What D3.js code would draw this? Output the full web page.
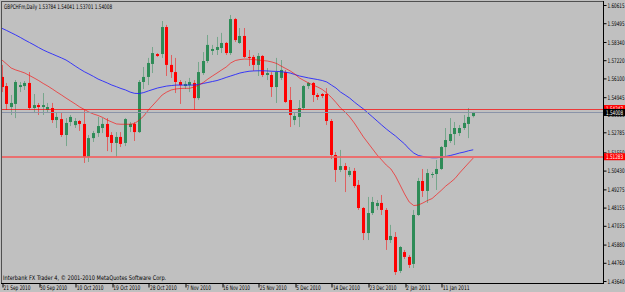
<!DOCTYPE html>
<html><head><meta charset="utf-8">
<script src="https://cdn.jsdelivr.net/npm/d3@7"></script>
<style>html,body{margin:0;padding:0;background:#c0c0c0;overflow:hidden}</style>
</head><body>
<svg id="c" width="625" height="292"></svg>
<script>
const openP = [1.5619,1.5563,1.5434,1.5453,1.5557,1.5563,1.5582,1.5428,1.5446,1.5434,
1.5416,1.5428,1.5354,1.5360,1.5262,1.5342,1.5323,1.5348,1.5330,1.5127,
1.5243,1.5274,1.5305,1.5330,1.5262,1.5213,1.5250,1.5213,1.5311,1.5330,
1.5280,1.5588,1.5619,1.5699,1.5760,1.5760,1.5926,1.5693,1.5649,1.5588,
1.5563,1.5569,1.5582,1.5489,1.5643,1.5717,1.5779,1.5785,1.5797,1.5828,
1.5766,1.5975,1.5828,1.5871,1.5742,1.5742,1.5693,1.5748,1.5631,1.5631,
1.5557,1.5613,1.5649,1.5477,1.5354,1.5373,1.5428,1.5563,1.5582,1.5508,
1.5514,1.5514,1.5348,1.5139,1.5047,1.5071,1.5016,1.5041,1.4955,1.4813,
1.4659,1.4782,1.4825,1.4844,1.4801,1.4616,1.4635,1.4426,1.4542,1.4512,
1.4469,1.4770,1.4979,1.4918,1.5016,1.5022,1.5053,1.5188,1.5225,1.5268,
1.5274,1.5305,1.5330,1.53784];
const highP = [1.5693,1.5582,1.5508,1.5600,1.5588,1.5594,1.5649,1.5514,1.5459,1.5520,
1.5459,1.5459,1.5403,1.5403,1.5366,1.5385,1.5366,1.5354,1.5416,1.5262,
1.5287,1.5373,1.5366,1.5366,1.5280,1.5280,1.5280,1.5366,1.5342,1.5342,
1.5600,1.5680,1.5736,1.5803,1.5766,1.5963,1.5939,1.5754,1.5736,1.5600,
1.5594,1.5613,1.5600,1.5711,1.5772,1.5877,1.5816,1.5865,1.5890,1.5834,
1.6000,1.5982,1.5920,1.5920,1.5785,1.5754,1.5766,1.5754,1.5674,1.5649,
1.5736,1.5723,1.5662,1.5557,1.5397,1.5477,1.5569,1.5588,1.5588,1.5520,
1.5520,1.5551,1.5360,1.5157,1.5170,1.5090,1.5065,1.5059,1.4985,1.4819,
1.4881,1.4881,1.4862,1.4893,1.4813,1.4709,1.4665,1.4579,1.4555,1.4524,
1.4801,1.4998,1.5053,1.5053,1.5034,1.5108,1.5194,1.5305,1.5366,1.5342,
1.5323,1.5385,1.5428,1.54041];
const lowP = [1.5526,1.5416,1.5385,1.5366,1.5526,1.5539,1.5416,1.5397,1.5385,1.5385,
1.5397,1.5336,1.5305,1.5250,1.5194,1.5317,1.5305,1.5287,1.5090,1.5096,
1.5219,1.5250,1.5274,1.5163,1.5157,1.5127,1.5188,1.5194,1.5280,1.5225,
1.5274,1.5545,1.5569,1.5643,1.5742,1.5736,1.5625,1.5613,1.5520,1.5453,
1.5545,1.5526,1.5416,1.5477,1.5631,1.5705,1.5754,1.5754,1.5766,1.5754,
1.5754,1.5834,1.5822,1.5736,1.5686,1.5656,1.5625,1.5619,1.5600,1.5496,
1.5459,1.5600,1.5459,1.5311,1.5323,1.5311,1.5416,1.5545,1.5465,1.5477,
1.5489,1.5323,1.5114,1.4973,1.5034,1.4911,1.5004,1.4936,1.4801,1.4616,
1.4616,1.4770,1.4801,1.4770,1.4555,1.4598,1.4401,1.4413,1.4499,1.4444,
1.4444,1.4764,1.4881,1.4844,1.4998,1.4924,1.5047,1.5133,1.5213,1.5200,
1.5256,1.5293,1.5243,1.53701];
const closeP = [1.5557,1.5453,1.5459,1.5588,1.5569,1.5582,1.5428,1.5446,1.5434,1.5446,
1.5434,1.5354,1.5373,1.5262,1.5336,1.5373,1.5348,1.5330,1.5127,1.5243,
1.5274,1.5317,1.5330,1.5250,1.5213,1.5250,1.5207,1.5360,1.5330,1.5280,
1.5588,1.5619,1.5705,1.5766,1.5748,1.5926,1.5693,1.5649,1.5588,1.5569,
1.5576,1.5588,1.5489,1.5649,1.5717,1.5816,1.5791,1.5803,1.5828,1.5766,
1.5975,1.5846,1.5871,1.5742,1.5736,1.5693,1.5748,1.5631,1.5643,1.5557,
1.5649,1.5662,1.5465,1.5385,1.5379,1.5428,1.5563,1.5582,1.5508,1.5496,
1.5502,1.5348,1.5139,1.5047,1.5071,1.5047,1.5041,1.4948,1.4813,1.4659,
1.4782,1.4850,1.4844,1.4801,1.4616,1.4641,1.4419,1.4573,1.4512,1.4463,
1.4770,1.4979,1.4918,1.5028,1.5022,1.5053,1.5188,1.5231,1.5268,1.5305,
1.5305,1.5336,1.5373,1.54008];
const maFast = [1.5723,1.5699,1.5674,1.5662,1.5653,1.5643,1.5628,1.5613,1.5597,1.5579,
1.5563,1.5545,1.5526,1.5508,1.5489,1.5471,1.5453,1.5434,1.5419,1.5403,
1.5391,1.5382,1.5370,1.5354,1.5342,1.5330,1.5328,1.5328,1.5328,1.5333,
1.5354,1.5379,1.5416,1.5446,1.5477,1.5508,1.5526,1.5539,1.5545,1.5548,
1.5549,1.5549,1.5557,1.5569,1.5585,1.5606,1.5625,1.5643,1.5662,1.5680,
1.5705,1.5720,1.5726,1.5729,1.5728,1.5726,1.5723,1.5720,1.5717,1.5711,
1.5702,1.5686,1.5671,1.5656,1.5637,1.5613,1.5597,1.5582,1.5569,1.5557,
1.5542,1.5520,1.5493,1.5462,1.5428,1.5403,1.5373,1.5336,1.5293,1.5250,
1.5213,1.5176,1.5139,1.5108,1.5077,1.5053,1.5010,1.4955,1.4899,1.4850,
1.4828,1.4831,1.4844,1.4859,1.4871,1.4896,1.4921,1.4948,1.4970,1.4994,
1.5028,1.5059,1.5090,1.5120];
const maSlow = [1.5918,1.5905,1.5891,1.5877,1.5862,1.5846,1.5831,1.5816,1.5800,1.5785,
1.5772,1.5760,1.5748,1.5736,1.5723,1.5705,1.5686,1.5668,1.5651,1.5637,
1.5622,1.5606,1.5594,1.5582,1.5569,1.5559,1.5548,1.5539,1.5526,1.5518,
1.5517,1.5523,1.5533,1.5542,1.5551,1.5557,1.5563,1.5566,1.5569,1.5569,
1.5569,1.5569,1.5569,1.5573,1.5579,1.5585,1.5591,1.5597,1.5606,1.5616,
1.5625,1.5634,1.5643,1.5649,1.5654,1.5656,1.5657,1.5657,1.5656,1.5654,
1.5653,1.5651,1.5648,1.5643,1.5634,1.5625,1.5619,1.5613,1.5608,1.5603,
1.5597,1.5588,1.5569,1.5551,1.5526,1.5508,1.5489,1.5465,1.5443,1.5422,
1.5397,1.5373,1.5348,1.5323,1.5299,1.5277,1.5256,1.5231,1.5207,1.5176,
1.5151,1.5136,1.5130,1.5125,1.5122,1.5122,1.5125,1.5130,1.5136,1.5143,
1.5151,1.5157,1.5165,1.5171];
const yTicks = [1.60615,1.59495,1.58340,1.57220,1.56100,1.54945,1.53865,1.52785,1.51550,1.50430,1.49275,1.48155,1.47035,1.45880,1.44760,1.43640];
const xTickIdx = [0,8,16,24,32,40,48,56,64,72,80,88,96];
const xTickLabels = ["21 Sep 2010","30 Sep 2010","10 Oct 2010","19 Oct 2010","28 Oct 2010","7 Nov 2010","16 Nov 2010","25 Nov 2010","5 Dec 2010","14 Dec 2010","23 Dec 2010","2 Jan 2011","11 Jan 2011"];
const levelHigh = 1.54247, levelLow = 1.51283, bidPrice = 1.54008;
const title = "GBPCHFm,Daily  1.53784 1.54041 1.53701 1.54008";
const footer = "Interbank FX Trader 4, \u00a9 2001-2010 MetaQuotes Software Corp.";

const FONT = "'DejaVu Sans Condensed','Liberation Sans Narrow',Tahoma,sans-serif";
const FS = "6.3px";
const W = 625, H = 292;
const L = 2, R = 603, T = 2, B = 283;
const n = closeP.length;
const svg = d3.select("#c");
svg.append("rect").attr("width", W).attr("height", H).attr("fill", "#c0c0c0");

const x = d3.scaleLinear().domain([0, n - 1]).range([2, 2 + 4.575 * (n - 1)]);
const y = d3.scaleLinear().domain([1.43640, 1.60615]).range([281, 5]);

svg.append("clipPath").attr("id", "pc").append("rect")
  .attr("x", L).attr("y", T).attr("width", R - L).attr("height", B - T);
const g = svg.append("g").attr("clip-path", "url(#pc)");

const idx = d3.range(n);
const bull = i => closeP[i] >= openP[i];
const cx = i => Math.round(x(i) - 1.5);

g.selectAll("line.wick").data(idx).join("line").attr("class", "wick")
  .attr("x1", i => cx(i) + 1.5).attr("x2", i => cx(i) + 1.5)
  .attr("y1", i => y(highP[i])).attr("y2", i => y(lowP[i]))
  .attr("stroke", i => bull(i) ? "#2e8b57" : "#ff0000")
  .attr("stroke-opacity", 0.5).attr("stroke-width", 1);
g.selectAll("rect.body").data(idx).join("rect").attr("class", "body")
  .attr("x", i => cx(i)).attr("width", 3)
  .attr("y", i => Math.min(y(openP[i]), y(closeP[i])))
  .attr("height", i => Math.max(1, Math.abs(y(openP[i]) - y(closeP[i]))))
  .attr("fill", i => bull(i) ? "#2e8b57" : "#ff0000");

const ln = arr => d3.line().x((d, i) => x(i)).y(d => y(d))(arr);
g.append("path").attr("d", ln(maSlow)).attr("fill", "none")
  .attr("stroke", "#2020ff").attr("stroke-opacity", 0.85).attr("stroke-width", 1);
g.append("path").attr("d", ln(maFast)).attr("fill", "none")
  .attr("stroke", "#ff0000").attr("stroke-opacity", 0.6).attr("stroke-width", 1);

const hy = v => Math.round(y(v)) + 0.5;
g.append("line").attr("x1", L).attr("x2", R).attr("y1", hy(levelHigh)).attr("y2", hy(levelHigh))
  .attr("stroke", "#ff0000").attr("stroke-opacity", 0.7);
g.append("line").attr("x1", L).attr("x2", R).attr("y1", hy(bidPrice)).attr("y2", hy(bidPrice))
  .attr("stroke", "#8a93a8");
g.append("line").attr("x1", L).attr("x2", R).attr("y1", Math.round(y(levelLow))).attr("y2", Math.round(y(levelLow)))
  .attr("stroke", "#f06060").attr("stroke-width", 2).attr("stroke-opacity", 0.85);

svg.append("line").attr("x1", 1.5).attr("x2", 1.5).attr("y1", 1).attr("y2", B).attr("stroke", "#505050");
svg.append("line").attr("x1", 1).attr("x2", R).attr("y1", 1.5).attr("y2", 1.5).attr("stroke", "#505050");
svg.append("line").attr("x1", R + 0.5).attr("x2", R + 0.5).attr("y1", 1).attr("y2", B + 1).attr("stroke", "#000");
svg.append("line").attr("x1", 1).attr("x2", R + 1).attr("y1", B + 0.5).attr("y2", B + 0.5).attr("stroke", "#000");

const fit = (sel, perChar) => sel.attr("textLength", function () { return this.textContent.length * perChar; })
  .attr("lengthAdjust", "spacingAndGlyphs");

const ya = svg.append("g").attr("transform", `translate(${R + 0.5},0)`)
  .call(d3.axisRight(y).tickValues(yTicks).tickSize(3).tickPadding(1).tickFormat(d3.format(".5f")));
ya.select(".domain").remove();
ya.selectAll("text").attr("font-family", FONT).attr("font-size", FS).attr("fill", "#000");
fit(ya.selectAll("text"), 2.45);
ya.selectAll("line").attr("stroke", "#000");

const xa = svg.append("g").attr("transform", `translate(0,${B + 0.5})`)
  .call(d3.axisBottom(x).tickValues(xTickIdx).tickSize(4).tickFormat((d, i) => xTickLabels[i]));
xa.select(".domain").remove();
xa.selectAll("line").attr("stroke", "#000").attr("transform", d => `translate(${Math.round(x(d)) + 0.5 - x(d)},0)`);
xa.selectAll("text").attr("font-family", FONT).attr("font-size", FS).attr("fill", "#000")
  .attr("text-anchor", "start").attr("dx", 1).attr("y", 0).attr("dy", "6.6px");
fit(xa.selectAll("text"), 2.45);

const boxes = [[levelHigh, "#ff0000"], [bidPrice, "#000000"], [levelLow, "#ff0000"]];
boxes.forEach(([v, c]) => {
  const yy = y(v);
  svg.append("rect").attr("x", R + 1).attr("y", yy - 3.5).attr("width", W - R - 1).attr("height", 7).attr("fill", c);
  fit(svg.append("text").attr("x", R + 3).attr("y", yy).attr("dy", "0.35em")
    .attr("font-family", FONT).attr("font-size", FS).attr("fill", "#fff").text(d3.format(".5f")(v)), 2.45);
});

fit(svg.append("text").attr("x", 4).attr("y", 8.5).attr("font-family", FONT).attr("font-size", FS).attr("fill", "#000").text(title), 2.35);
fit(svg.append("text").attr("x", 3).attr("y", 279.5).attr("font-family", FONT).attr("font-size", FS).attr("fill", "#000").text(footer), 2.72);
</script>
</body></html>
